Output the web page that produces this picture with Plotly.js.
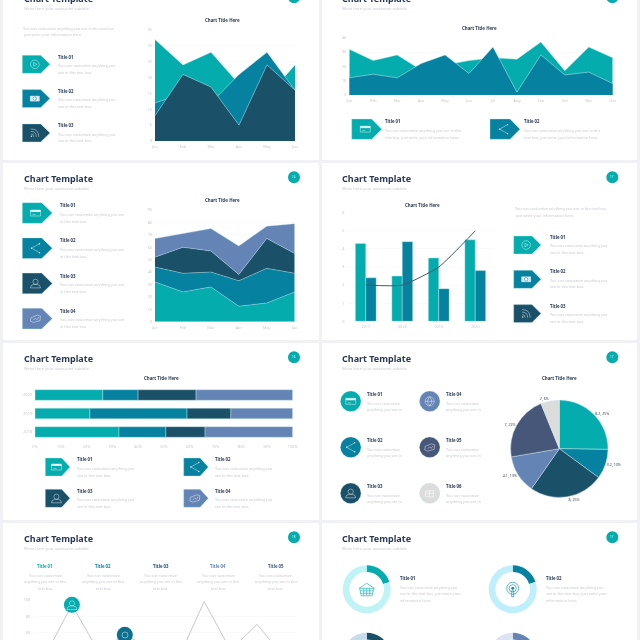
<!DOCTYPE html>
<html>
<head>
<meta charset="utf-8">
<script src="https://cdn.plot.ly/plotly-3.0.1.min.js"></script>
<style>
html,body{margin:0;padding:0;width:640px;height:640px;overflow:hidden;background:#f0f1f4}
#frame{width:640px;height:640px;overflow:hidden;filter:blur(.3px)}
</style>
</head>
<body>
<div id="frame"><div id="chart"></div></div>
<script>
// ---------- data ----------
const months6 = ["Jan","Feb","Mar","Apr","May","Jun"];
const months12 = ["Jan","Feb","Mar","Apr","May","Jun","Jul","Aug","Sep","Oct","Nov","Dec"];
const a1Teal = [32,24,28,18,14,24];
const a1Blue = [12,15,12,21,28,16];
const a1Dark = [8,21,17,5,24,16];
const a2Teal = [32,24,28,17.5,21,24,26,25,37,17,33.5,26];
const a2Blue = [12,14.5,12,22,28,15,33.5,2,28,14,16,8];
const a3Teal = [32,24,28,12.5,15,24];
const a3Blue = [12,15,12,20.5,28,15];
const a3Dark = [8,21,17,5,24,16];
const a3Light = [15,11,18,23,10,24];
const years4 = ["2017","2018","2019","2020"];
const b4Teal = [4.3,2.5,3.5,4.5];
const b4Blue = [2.4,4.4,1.8,2.8];
const l4Line = [2,2,3,5];
const years3 = ["2018","2019","2020"];
const s5Teal = [32.6,21.3,26.3];
const s5Blue = [18.2,37.7,13.7];
const s5Dark = [15.2,17,22.5];
const s5Light = [34,24,37.5];
const pieValues = [8.2,3.2,8,4.1,7,2];
const pieLabels = ["8.2, 25%","3.2, 10%","8, 25%","4.1, 13%","7, 22%","2, 6%"];
const l7X = [0,1,2,3,4,5,6,7,8,9];
const l7Y = [32,94,37,57,40,26,98,38,70,30];
const l7Ticks = [60,80,100];
const donut1 = [20,80];
const donut2 = [20,80];
const donut3 = [20,80];
const donut4 = [20,80];
const yTicks1 = [0,5,10,15,20,25,30,35];

// ---------- palette / geometry helpers ----------
const C = {teal:"#04acae",blue:"#06819f",dark:"#1a5068",light:"#6484b5",navy:"#46577a",gray:"#dcdcdc",
           ink:"#2a3a55",body:"#c6cacf",axis:"#c4c8cc",grid:"#f4f5f7",edge:"#c9eef0"};
const W = 640, H = 700;
const fx = x => x/W, fy = y => 1-y/H;
const domX = (a,b) => [a/W,b/W], domY = (t,b) => [1-b/H,1-t/H];
const FONT = '"Noto Sans",sans-serif';
const shapes = [], annotations = [];

function txt(x,y,t,size,color,anchor){
  annotations.push({xref:"paper",yref:"paper",x:fx(x),y:fy(y),text:t,showarrow:false,
    xanchor:anchor||"left",yanchor:"middle",borderpad:0,borderwidth:0,font:{family:FONT,size:size,color:color}});
}
function rect(x0,y0,x1,y1,color,layer){
  shapes.push({type:"rect",xref:"paper",yref:"paper",x0:fx(x0),x1:fx(x1),y0:fy(y0),y1:fy(y1),
    fillcolor:color,line:{width:0},layer:layer||"below"});
}
function circ(cx,cy,r,fill,stroke,sw){
  shapes.push({type:"circle",xref:"paper",yref:"paper",x0:fx(cx-r),x1:fx(cx+r),y0:fy(cy-r),y1:fy(cy+r),
    fillcolor:fill||"rgba(0,0,0,0)",line:{width:stroke?(sw||0.5):0,color:stroke||"rgba(0,0,0,0)"},layer:"above"});
}
function path(d,cx,cy,stroke,fill,sw){
  // d is written in local pixel offsets around (cx,cy); it is converted to paper fractions
  const toks = d.trim().split(/\s+/); let out = "", isX = true;
  toks.forEach(t=>{
    if(/^[A-Za-z]$/.test(t)){ out += t+" "; isX = true; }
    else if(isX){ out += fx(cx+parseFloat(t)).toFixed(5)+" "; isX = false; }
    else { out += fy(cy+parseFloat(t)).toFixed(5)+" "; isX = true; }
  });
  shapes.push({type:"path",xref:"paper",yref:"paper",path:out.trim(),
    fillcolor:fill||"rgba(0,0,0,0)",line:{width:stroke?(sw||0.5):0,color:stroke||"rgba(0,0,0,0)"},layer:"above"});
}
function icon(kind,cx,cy,col){
  const c = col||"rgba(255,255,255,.85)";
  if(kind==="play"){circ(cx,cy,4.3,null,c);path("M -1.2 -1.8 L 2 0 L -1.2 1.8 Z",cx,cy,c);}
  if(kind==="cam"){path("M -4.5 -2.5 L 4.5 -2.5 L 4.5 2.5 L -4.5 2.5 Z",cx,cy,c,c);circ(cx,cy,1.7,"#fff",C.blue,.5);}
  if(kind==="wifi"){path("M -4 -4 Q 4 -4 4 4",cx,cy,c);path("M -4 -1.5 Q 1.5 -1.5 1.5 4",cx,cy,c);path("M -4 1 Q -1 1 -1 4",cx,cy,c);circ(cx-3.4,cy+3.4,.7,c);}
  if(kind==="card"){path("M -5 -3 L 5 -3 L 5 3 L -5 3 Z",cx,cy,c);path("M -5 -1 L 5 -1 L 5 -3 L -5 -3 Z",cx,cy,null,c);path("M -3 1.5 L 0 1.5",cx,cy,c);}
  if(kind==="share"){path("M 4 -4.5 L -4 0 L 4 4.5",cx,cy,c);circ(cx+4,cy-4.5,.7,c);circ(cx-4,cy,.7,c);circ(cx+4,cy+4.5,.7,c);}
  if(kind==="user"){circ(cx,cy-1.6,2.6,null,c);path("M -5 4.5 Q -5 1.5 -1.8 1 L 1.8 1 Q 5 1.5 5 4.5 Z",cx,cy,c);}
  if(kind==="map"){path("M -4.5 -1 L 2 -3.5 L 5 -2.5 L 4.5 2 L -2 3.8 L -5 2.5 Z",cx,cy,c);path("M -2 1.5 L 0 -0.5 L 1.5 1 L 3.5 -1.5",cx,cy,c);}
  if(kind==="globe"){circ(cx,cy,4.5,null,c);path("M -4.5 0 L 4.5 0",cx,cy,c);path("M 0 -4.5 Q -4 0 0 4.5",cx,cy,c);path("M 0 -4.5 Q 4 0 0 4.5",cx,cy,c);}
  if(kind==="box"){path("M -4 -2.5 L 4 -2.5 L 4 3.5 L -4 3.5 Z",cx,cy,c,null,.7);path("M -4 0 L 4 0 M 0 -2.5 L 0 3.5",cx,cy,c,null,.7);}
  if(kind==="basket"){path("M -7.5 -1.5 L 0 -6.5 L 7.5 -1.5 Z",cx,cy,c,null,.6);path("M -7 -1.5 L -5.5 6 L 5.5 6 L 7 -1.5 M -6.5 1 L 6.5 1 M -6 3.5 L 6 3.5 M -3 -1.5 L -3 6 M 0 -1.5 L 0 6 M 3 -1.5 L 3 6",cx,cy,c,null,.6);}
  if(kind==="pod"){circ(cx,cy-1.5,6,null,c,.6);circ(cx,cy-1.5,3.6,null,c,.6);circ(cx,cy-1.5,1.4,c);path("M -1 1 L 1 1 L 1 7 L -1 7 Z",cx,cy,c,null,.6);}
}
function penta(x0,x1,sh,y0,y1,color,kind){
  path(`M 0 0 L ${sh-x0} 0 L ${x1-x0} ${(y1-y0)/2} L ${sh-x0} ${y1-y0} L 0 ${y1-y0} Z`,x0,y0,"rgba(190,240,242,.7)",color,.5);
  if(kind) icon(kind,x0+(sh-x0)*.68,(y0+y1)/2);
}
function block(x,y,title,lines,d1,dl){
  txt(x,y,"<b>"+title+"</b>",4.3,C.ink);
  lines.forEach((l,i)=>txt(x,y+d1+i*dl,l,3.8,C.body));
}
function slide(col,row,num,textX){
  const xs = col===0?[3,319]:[322,637], ys = [[-17,160],[163,340],[343,520],[523,700]][row];
  rect(xs[0],ys[0],xs[1],ys[1],"#ffffff");
  const off = [-180,0,180,360][row];
  txt(textX,178.3+off,"<b>Chart Template</b>",9,C.ink);
  txt(textX,188.3+off,"Write here your awesome subtitle",4.1,C.body);
  const cx = col===0?294:612.3;
  circ(cx,177.3+off,6,C.teal);
  txt(cx,177.3+off,num,3,"#d6f4f4","center");
}
function chartTitle(x,y){txt(x,y,"<b>Chart Title Here</b>",4.4,C.ink,"center");}

// ---------- slides, text and decorations ----------
slide(0,0,"14",23.5); slide(1,0,"17",342);
slide(0,1,"14",23.5); slide(1,1,"17",342);
slide(0,2,"16",23.5); slide(1,2,"17",342);
slide(0,3,"18",23.5); slide(1,3,"17",342);

chartTitle(222.7,20); chartTitle(479.3,27.7); chartTitle(222.7,200);
chartTitle(422.7,205); chartTitle(161,377.7); chartTitle(559.7,377.7);

const topA = "You can customize anything you see in the text box,", topB = "just write your information here.";
const cust30 = ["You can customize anything you","see in this text box."];
// slide 1
txt(23.3,28,topA,3.8,C.body); txt(23.3,34.7,topB,3.8,C.body);
[[C.teal,"play"],[C.blue,"cam"],[C.dark,"wifi"]].forEach((p,i)=>{
  const y0 = 55.3+i*34.3;
  penta(22.3,50,40.7,y0,y0+18,p[0],p[1]);
  block(58.3,y0+1.4,"Title 0"+(i+1),cust30,8.8,6.8);
});
// slide 2
[[351.7,371.7,381.7,385.3,C.teal,"card"],[490,510,520,524,C.blue,"share"]].forEach((p,i)=>{
  penta(p[0],p[2],p[1],119,139.3,p[4],p[5]);
  block(p[3],121.3,"Title 0"+(i+1),["You can customize anything you see in this","text box, just write your information here."],9,6.7);
});
// slide 3
[[C.teal,"card"],[C.blue,"share"],[C.dark,"user"],[C.light,"map"]].forEach((p,i)=>{
  const y0 = 202.7+i*35.2;
  penta(22.3,52.3,41.7,y0,y0+20.6,p[0],p[1]);
  block(60,y0+2.6,"Title 0"+(i+1),["You can customize anything you see","in this text box."],9,7);
});
// slide 4
txt(515,208.3,topA,3.8,C.body); txt(515,215.3,topB,3.8,C.body);
[[C.teal,"play"],[C.blue,"cam"],[C.dark,"wifi"]].forEach((p,i)=>{
  const y0 = 236+i*34.3;
  penta(513.7,541,532,y0,y0+18,p[0],p[1]);
  block(549.7,y0+1,"Title 0"+(i+1),cust30,8.7,7);
});
// slide 5
[[45.3,70,61.7,76.7,458,C.teal,"card"],[183.7,208.3,200.1,215,458,C.blue,"share"],
 [45.3,70,61.7,76.7,489.3,C.dark,"user"],[183.7,208.3,200.1,215,489.3,C.light,"map"]].forEach((p,i)=>{
  penta(p[0],p[1],p[2],p[4],p[4]+18,p[5],p[6]);
  block(p[3],p[4]+1.3,"Title 0"+(i+1),cust30,8.7,7);
});
// slide 6
[[350.7,401.3,C.teal,"card",366.7],[350.7,447.3,C.blue,"share",366.7],[350.7,493.3,C.dark,"user",366.7],
 [429.7,401.3,C.light,"globe",445.7],[429.7,447.3,C.navy,"map",445.7],[429.7,493.3,C.gray,"box",445.7]].forEach((p,i)=>{
  circ(p[0],p[1],10.3,p[2],"rgba(190,240,242,.6)",.4);
  icon(p[3],p[0],p[1]);
  block(p[4],p[1]-7.3,"Title 0"+(i+1),["You can customize","anything you see in"],9,6.7);
});
// slide 7
[[45.3,C.teal],[103.3,C.blue],[160.7,C.dark],[218,C.light],[275.7,C.navy]].forEach((p,i)=>{
  txt(p[0],566,"<b>Title 0"+(i+1)+"</b>",4.3,p[1],"center");
  ["You can customize","anything you see in this","text box."].forEach((l,j)=>txt(p[0],575+j*6.7,l,3.8,C.body,"center"));
});
// slide 8
[[400,"Title 01"],[545.7,"Title 02"]].forEach(p=>{
  block(p[0],578,p[1],["You can customize anything you","see in this text box, just write your","information here."],9,6.8);
});
icon("basket",366.7,589.8,C.teal);
icon("pod",512.7,589.8,C.blue);

// ---------- axes ----------
const layout = {width:W,height:H,margin:{l:0,r:0,t:0,b:0},paper_bgcolor:"#f0f1f4",plot_bgcolor:"rgba(0,0,0,0)",
  showlegend:false,hovermode:false,barmode:"group",bargap:0.43,bargroupgap:0,font:{family:FONT},shapes,annotations};
const tickFont = {family:FONT,size:3.8,color:C.axis};
function axes(n,x0,x1,y0,y1,xo,yo){
  const s = n===1?"":String(n);
  layout["xaxis"+s] = Object.assign({domain:domX(x0,x1),anchor:"y"+s,showgrid:false,zeroline:false,showline:false,ticks:"",
    tickfont:tickFont,ticklabelstandoff:2,fixedrange:true},xo);
  layout["yaxis"+s] = Object.assign({domain:domY(y0,y1),anchor:"x"+s,showgrid:true,gridcolor:C.grid,gridwidth:.5,zeroline:false,showline:false,ticks:"",
    tickfont:tickFont,ticklabelstandoff:2,fixedrange:true},yo);
}
const catX = n => ({type:"category",range:[0,n-1]});
axes(1,155,295,30,141,catX(6),{range:[0,35],tickvals:yTicks1});
axes(2,349.3,612.7,37.7,95,catX(12),{range:[0,40],dtick:10});
axes(3,155,294.7,210,321.7,catX(6),{range:[0,90],dtick:10});
axes(4,347.5,493.5,212.7,321.3,{type:"category",range:[-.5,3.5]},{range:[0,6],dtick:1});
axes(5,35,292.7,385.75,441.25,{range:[0,100],dtick:10,ticksuffix:"%"},{type:"category",range:[-.5,2.5],showgrid:false});
axes(6,33,296,600,681,{range:[-.47,9.47],showticklabels:false},{range:[0,100],tickvals:l7Ticks});

// ---------- traces ----------
const data = [];
function area(ax,x,y,color){
  data.push({type:"scatter",mode:"lines",xaxis:"x"+ax,yaxis:"y"+ax,x,y,fill:"tozeroy",fillcolor:color,
    line:{color:C.edge,width:.5}});
}
const ax = n => n===1?"":String(n);
area(ax(1),months6,a1Teal,C.teal); area(ax(1),months6,a1Blue,C.blue); area(ax(1),months6,a1Dark,C.dark);
area(ax(2),months12,a2Teal,C.teal); area(ax(2),months12,a2Blue,C.blue);
[[a3Teal,C.teal],[a3Blue,C.blue],[a3Dark,C.dark],[a3Light,C.light]].forEach(p=>{
  data.push({type:"scatter",mode:"lines",xaxis:"x3",yaxis:"y3",x:months6,y:p[0],stackgroup:"s3",fillcolor:p[1],
    line:{color:"rgba(190,235,240,.8)",width:.5}});
});
data.push({type:"bar",xaxis:"x4",yaxis:"y4",x:years4,y:b4Teal,marker:{color:C.teal,line:{color:C.edge,width:.4}}});
data.push({type:"bar",xaxis:"x4",yaxis:"y4",x:years4,y:b4Blue,marker:{color:C.blue,line:{color:C.edge,width:.4}}});
data.push({type:"scatter",mode:"lines",xaxis:"x4",yaxis:"y4",x:years4,y:l4Line,line:{color:"#3f5a6c",width:1,shape:"spline",smoothing:.5}});
let cum = years3.map(()=>0);
[[s5Teal,C.teal],[s5Blue,C.blue],[s5Dark,C.dark],[s5Light,C.light]].forEach(p=>{
  data.push({type:"bar",orientation:"h",xaxis:"x5",yaxis:"y5",y:years3,x:p[0],base:cum.slice(),offsetgroup:"stack5",
    marker:{color:p[1],line:{color:C.edge,width:.4}}});
  cum = cum.map((c,i)=>c+p[0][i]);
});
data.push({type:"pie",values:pieValues,text:pieLabels,textinfo:"text",textposition:"outside",sort:false,direction:"clockwise",rotation:0,
  domain:{x:domX(510.6,608),y:domY(400,497.4)},
  marker:{colors:[C.teal,C.blue,C.dark,C.light,C.navy,C.gray],line:{color:"#dff3f4",width:.4}},
  textfont:{family:FONT,size:3.6,color:"#3a4658"},automargin:false});
data.push({type:"scatter",mode:"lines+markers",xaxis:"x6",yaxis:"y6",x:l7X,y:l7Y,cliponaxis:false,
  line:{color:"#c8c8c8",width:1},
  marker:{opacity:1,size:l7X.map(i=>(i===1||i===3)?16:0),color:l7X.map(i=>i===1?C.teal:"#0d6f8d"),line:{width:0}}});
function donut(v,cx,cy,col,track){
  data.push({type:"pie",values:v,hole:.72,sort:false,direction:"clockwise",rotation:0,textinfo:"none",
    domain:{x:domX(cx-24,cx+24),y:domY(cy-24,cy+24)},marker:{colors:[col,track],line:{width:0}}});
}
donut(donut1,366.7,589.3,C.teal,"#c0f3f6");
donut(donut2,512.7,589.3,C.blue,"#bfeffb");
donut(donut3,366.7,656.7,C.dark,"#c6dcec");
donut(donut4,512.7,656.7,C.light,"#dde3f0");

// icons in the markers of the line chart
icon("user",72,605,"rgba(255,255,255,.85)");
circ(125,635,3,null,"rgba(255,255,255,.8)",.6);

Plotly.newPlot("chart",data,layout,{staticPlot:true,displayModeBar:false});
</script>
</body>
</html>
